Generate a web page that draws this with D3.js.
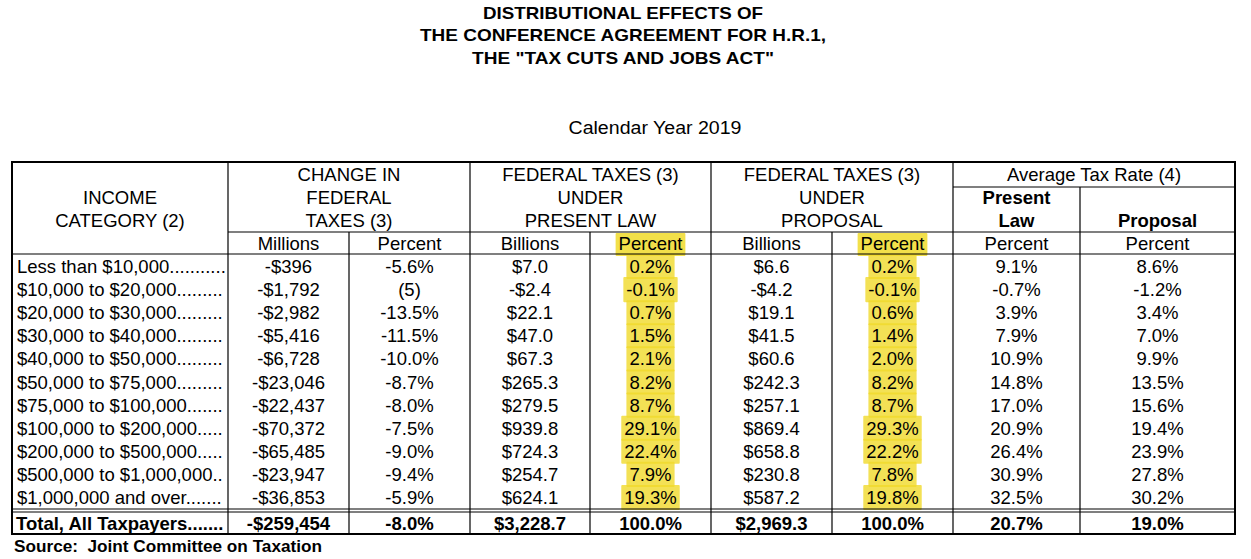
<!DOCTYPE html>
<html><head><meta charset="utf-8">
<script src="https://cdn.jsdelivr.net/npm/d3@7"></script>
<style>
html,body{margin:0;padding:0;background:#fff;}
svg{display:block;font-family:"Liberation Sans",Arial,Helvetica,sans-serif;}
</style></head>
<body><svg id="chart" width="1251" height="559"></svg>
<script>
// ---------- data ----------
const titleLines = ["DISTRIBUTIONAL EFFECTS OF", "THE CONFERENCE AGREEMENT FOR H.R.1,", "THE \"TAX CUTS AND JOBS ACT\""];
const subtitle = "Calendar Year 2019";
const source = "Source:  Joint Committee on Taxation";
const categories = ["Less than $10,000", "$10,000 to $20,000", "$20,000 to $30,000", "$30,000 to $40,000", "$40,000 to $50,000",
  "$50,000 to $75,000", "$75,000 to $100,000", "$100,000 to $200,000", "$200,000 to $500,000", "$500,000 to $1,000,000", "$1,000,000 and over"];
const changeMillions = ["-$396", "-$1,792", "-$2,982", "-$5,416", "-$6,728", "-$23,046", "-$22,437", "-$70,372", "-$65,485", "-$23,947", "-$36,853"];
const changePercent = ["-5.6%", "(5)", "-13.5%", "-11.5%", "-10.0%", "-8.7%", "-8.0%", "-7.5%", "-9.0%", "-9.4%", "-5.9%"];
const presentBillions = ["$7.0", "-$2.4", "$22.1", "$47.0", "$67.3", "$265.3", "$279.5", "$939.8", "$724.3", "$254.7", "$624.1"];
const presentPercent = ["0.2%", "-0.1%", "0.7%", "1.5%", "2.1%", "8.2%", "8.7%", "29.1%", "22.4%", "7.9%", "19.3%"];
const proposalBillions = ["$6.6", "-$4.2", "$19.1", "$41.5", "$60.6", "$242.3", "$257.1", "$869.4", "$658.8", "$230.8", "$587.2"];
const proposalPercent = ["0.2%", "-0.1%", "0.6%", "1.4%", "2.0%", "8.2%", "8.7%", "29.3%", "22.2%", "7.8%", "19.8%"];
const atrPresent = ["9.1%", "-0.7%", "3.9%", "7.9%", "10.9%", "14.8%", "17.0%", "20.9%", "26.4%", "30.9%", "32.5%"];
const atrProposal = ["8.6%", "-1.2%", "3.4%", "7.0%", "9.9%", "13.5%", "15.6%", "19.4%", "23.9%", "27.8%", "30.2%"];
const totalLabel = "Total, All Taxpayers";
const totals = ["-$259,454", "-8.0%", "$3,228.7", "100.0%", "$2,969.3", "100.0%", "20.7%", "19.0%"];
const subHeaders = ["Millions", "Percent", "Billions", "Percent", "Billions", "Percent", "Percent", "Percent"];
const highlightCols = [3, 5];

// ---------- layout ----------
const svg = d3.select("#chart");
const FS = 18.5;
const colEdges = [12, 228, 349, 470, 590, 711, 832, 953, 1080, 1235];
const tableTop = 162, hdrMid = 187, hdrLine = 232, subLine = 254, dataTop = 255, dataBottom = 509, totTop = 512, tableBottom = 534;

const y = d3.scaleBand().domain(d3.range(categories.length)).range([dataTop, dataBottom]);
const colCenter = i => (colEdges[i] + colEdges[i + 1]) / 2;

const cols = [changeMillions, changePercent, presentBillions, presentPercent, proposalBillions, proposalPercent, atrPresent, atrProposal];

// titles
const tl = svg.append("g").attr("font-weight", "bold").attr("font-size", 17).attr("text-anchor", "middle")
  .attr("font-family", "'Liberation Sans Narrow','Liberation Sans',Arial,sans-serif");
const titleW = [280, 406, 302];
titleLines.forEach((t, i) => {
  tl.append("text").attr("x", 623).attr("y", 19 + i * 22.3).text(t)
    .attr("textLength", titleW[i]).attr("lengthAdjust", "spacingAndGlyphs");
});
svg.append("text").attr("x", 655).attr("y", 134).attr("text-anchor", "middle").attr("font-size", 17.5)
  .attr("font-family", "'Liberation Sans Narrow','Liberation Sans',Arial,sans-serif")
  .attr("textLength", 173).attr("lengthAdjust", "spacingAndGlyphs").text(subtitle);

// highlights layer (beneath text)
const hl = svg.append("g");
const txt = svg.append("g").attr("font-size", FS).attr("fill", "#000");

// header texts
function hText(x, yy, s, bold) {
  return txt.append("text").attr("x", x).attr("y", yy).attr("text-anchor", "middle")
    .attr("font-weight", bold ? "bold" : "normal").text(s);
}
hText(colCenter(0), 204, "INCOME");
hText(colCenter(0), 227, "CATEGORY (2)");
const cx1 = (colEdges[1] + colEdges[3]) / 2, cx2 = (colEdges[3] + colEdges[5]) / 2, cx3 = (colEdges[5] + colEdges[7]) / 2, cx4 = (colEdges[7] + colEdges[9]) / 2;
hText(cx1, 181, "CHANGE IN"); hText(cx1, 204, "FEDERAL"); hText(cx1, 227, "TAXES (3)");
hText(cx2, 181, "FEDERAL TAXES (3)"); hText(cx2, 204, "UNDER"); hText(cx2, 227, "PRESENT LAW");
hText(cx3, 181, "FEDERAL TAXES (3)"); hText(cx3, 204, "UNDER"); hText(cx3, 227, "PROPOSAL");
hText(cx4, 181, "Average Tax Rate (4)");
hText(colCenter(7), 204, "Present", true); hText(colCenter(7), 227, "Law", true);
hText(colCenter(8), 227, "Proposal", true);

const subTexts = subHeaders.map((s, j) => hText(colCenter(j + 1), 250, s));

// labels with dot leaders that fill the first column
const labelRight = colEdges[1] - 2;
function leader(sel, label, x0) {
  let s = label;
  sel.text(s);
  while (x0 + sel.node().getComputedTextLength() < labelRight - 5) { s += "."; sel.text(s); }
}
categories.forEach((c, i) => {
  const cy = y(i) + y.bandwidth() / 2 + 6.5;
  leader(txt.append("text").attr("x", 17).attr("y", cy), c, 17);
});
const cellTexts = cols.map((arr, j) => arr.map((v, i) =>
  txt.append("text").attr("x", colCenter(j + 1)).attr("y", y(i) + y.bandwidth() / 2 + 6.5)
    .attr("text-anchor", "middle").text(v)));

// total row
const totY = (totTop + tableBottom) / 2 + 6.5;
leader(txt.append("text").attr("x", 16).attr("y", totY).attr("font-weight", "bold"), totalLabel, 16);
const totTexts = totals.map((v, j) => txt.append("text").attr("x", colCenter(j + 1)).attr("y", totY)
  .attr("text-anchor", "middle").attr("font-weight", "bold").text(v));

// highlights
const HL = "#f0da2a";
highlightCols.forEach(j => {
  const ht = subTexts[j];
  const w = ht.node().getComputedTextLength();
  hl.append("rect").attr("x", colCenter(j + 1) - w / 2 - 3).attr("y", hdrLine + 1).attr("width", w + 6).attr("height", subLine - hdrLine + 1)
    .attr("fill", HL).attr("opacity", 0.85).attr("rx", 1);
  cellTexts[j].forEach((t, i) => {
    const tw = t.node().getComputedTextLength();
    hl.append("rect").attr("x", colCenter(j + 1) - tw / 2 - 3).attr("y", y(i) - 1).attr("width", tw + 6).attr("height", y.bandwidth() + 2)
      .attr("fill", HL).attr("opacity", 0.8).attr("rx", 1);
  });
});

// grid lines
const g = svg.append("g").attr("stroke", "#000").attr("stroke-width", 1.2).attr("fill", "none");
function ln(x1, y1, x2, y2, w) { g.append("line").attr("x1", x1).attr("y1", y1).attr("x2", x2).attr("y2", y2).attr("stroke-width", w || 1.2); }
ln(colEdges[7], hdrMid, colEdges[9], hdrMid);
ln(colEdges[1], hdrLine, colEdges[9], hdrLine);
ln(colEdges[0], subLine, colEdges[9], subLine);
ln(colEdges[0], dataBottom, colEdges[9], dataBottom);
ln(colEdges[0], totTop, colEdges[9], totTop);
[1, 3, 5, 7].forEach(i => ln(colEdges[i], tableTop, colEdges[i], tableBottom));
[2, 4, 6].forEach(i => ln(colEdges[i], hdrLine, colEdges[i], tableBottom));
ln(colEdges[8], hdrMid, colEdges[8], tableBottom);
g.append("rect").attr("x", colEdges[0]).attr("y", tableTop).attr("width", colEdges[9] - colEdges[0]).attr("height", tableBottom - tableTop).attr("stroke-width", 2);

// source
svg.append("text").attr("x", 14).attr("y", 552).attr("font-size", 17).attr("font-weight", "bold")
  .attr("xml:space", "preserve").style("white-space", "pre")
  .attr("textLength", 308).attr("lengthAdjust", "spacingAndGlyphs").text(source);
</script></body></html>
